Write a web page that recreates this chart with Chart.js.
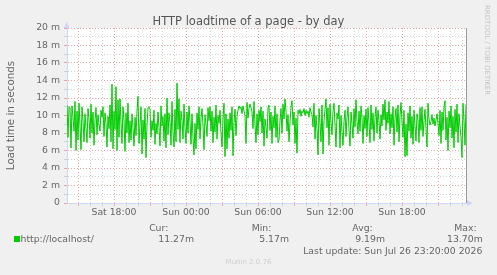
<!DOCTYPE html>
<html>
<head>
<meta charset="utf-8">
<script src="https://cdn.jsdelivr.net/npm/chart.js@4/dist/chart.umd.min.js"></script>
<style>
  html, body { margin:0; padding:0; background:#f0f0f0; }
  #wrap { position:relative; width:497px; height:275px; overflow:hidden; font-family:'DejaVu Sans', sans-serif; color:#666; }
  #c { position:absolute; left:0; top:0; }
  .t { position:absolute; white-space:nowrap; font-size:9.3px; line-height:12px; height:12px; }
  .r { text-align:right; }
</style>
</head>
<body>
<div id="wrap">
  <canvas id="c" width="497" height="275"></canvas>
  <div class="t" style="left:0;width:497px;text-align:center;top:14px;font-size:11.5px;line-height:14px;height:14px;color:#555;">HTTP loadtime of a page - by day</div>
  <div class="t" style="left:482px;top:5px;writing-mode:vertical-rl;font-size:7px;line-height:9px;height:auto;width:9px;color:#c4c4c4;">RRDTOOL / TOBI OETIKER</div>
  <div style="position:absolute;left:14px;top:236px;width:6px;height:6px;background:#00cc00;"></div>
  <div class="t" style="left:20.5px;top:233px;">http://localhost/</div>
  <div class="t r" style="right:328.7px;top:221.5px;">Cur:</div>
  <div class="t r" style="right:225.7px;top:221.5px;">Min:</div>
  <div class="t r" style="right:124.3px;top:221.5px;">Avg:</div>
  <div class="t r" style="right:20.3px;top:221.5px;">Max:</div>
  <div class="t r" style="right:303px;top:233.3px;">11.27m</div>
  <div class="t r" style="right:208px;top:233.3px;">5.17m</div>
  <div class="t r" style="right:112px;top:233.3px;">9.19m</div>
  <div class="t r" style="right:14.3px;top:233.3px;">13.70m</div>
  <div class="t r" style="right:14.7px;top:245px;">Last update: Sun Jul 26 23:20:00 2026</div>
  <div class="t" style="left:0;width:497px;text-align:center;top:257px;font-size:7px;line-height:10px;height:10px;color:#cdcdcd;">Munin 2.0.76</div>
</div>
<script>
// ---- data (load time in milliseconds, one sample per 5 minutes) ----
const seriesName = 'http://localhost/';
const startMinute = 845;   // minutes after Sat 00:00 of first sample (Sat 14:05)
const stepMinutes = 5;
const loadTime = [
  11.2, 7.5, 11.0, 10.9, 6.3, 11.1, 9.8, 8.2, 11.6, 6.0, 10.5, 7.2, 11.4, 8.8, 6.1, 11.0, 9.3, 7.0, 10.2, 8.5,
  6.9, 10.8, 9.6, 7.4, 11.3, 8.0, 10.4, 6.6, 9.5, 10.9, 7.8, 10.1, 9.0, 8.2, 10.6, 9.8, 11.0, 7.6, 10.3, 9.1,
  6.4, 9.9, 8.5, 11.2, 7.0, 13.6, 6.2, 10.5, 8.4, 13.3, 6.0, 11.8, 7.5, 11.9, 9.2, 6.8, 11.0, 9.5, 5.9, 10.3,
  8.0, 11.4, 6.9, 9.4, 7.2, 10.2, 8.6, 6.5, 9.8, 7.7, 10.5, 12.2, 6.8, 9.0, 11.0, 5.6, 9.5, 7.3, 10.8, 5.17,
  8.9, 10.9, 11.0, 10.7, 7.5, 9.4, 8.3, 10.6, 6.7, 9.1, 7.9, 10.4, 8.6, 6.5, 11.1, 8.8, 9.9, 7.1, 10.2, 6.3,
  12.0, 7.8, 10.3, 9.2, 6.6, 11.6, 8.1, 6.4, 10.7, 7.0, 13.7, 8.4, 11.9, 6.9, 10.5, 9.4, 7.3, 11.3, 8.6, 6.8,
  10.4, 8.0, 11.1, 9.3, 6.7, 10.2, 7.5, 5.5, 9.1, 6.2, 10.3, 8.4, 11.0, 7.3, 9.7, 10.8, 8.8, 6.1, 10.1, 9.0,
  7.6, 10.9, 9.4, 11.0, 8.2, 10.5, 6.9, 9.8, 8.1, 11.2, 7.3, 10.0, 9.1, 10.6, 8.0, 6.4, 9.7, 11.4, 5.3, 10.2,
  6.2, 9.6, 7.4, 10.3, 8.3, 11.0, 5.4, 9.2, 10.7, 7.7, 9.9, 10.6, 11.1, 10.8, 11.0, 10.2, 11.1, 10.5, 10.0, 6.8,
  11.5, 9.7, 10.8, 11.3, 10.9, 10.4, 8.5, 11.6, 9.0, 6.9, 10.2, 7.8, 10.6, 9.3, 11.0, 8.0, 10.5, 6.5, 9.6, 8.7,
  7.4, 10.9, 11.2, 8.3, 10.4, 6.8, 9.9, 8.6, 11.1, 7.5, 10.2, 6.9, 7.2, 9.4, 10.8, 8.0, 11.3, 9.6, 11.9, 10.5,
  8.2, 10.1, 7.0, 9.3, 11.0, 11.7, 8.9, 10.4, 6.8, 9.7, 5.7, 10.6, 10.2, 10.7, 9.9, 10.5, 10.3, 10.8, 10.0, 10.6,
  10.2, 10.5, 9.8, 10.9, 10.4, 10.1, 8.7, 11.4, 7.3, 10.0, 8.5, 5.5, 10.8, 9.1, 7.0, 11.2, 5.6, 9.4, 10.7, 11.9,
  8.6, 10.9, 6.6, 11.3, 9.2, 7.8, 10.5, 11.4, 8.9, 6.4, 10.3, 9.6, 11.2, 6.3, 10.0, 8.1, 6.6, 9.3, 10.6, 7.6,
  9.8, 11.0, 8.4, 6.5, 10.4, 9.0, 7.4, 10.8, 8.7, 11.8, 9.3, 7.9, 10.5, 8.2, 11.1, 9.7, 6.8, 10.0, 8.5, 10.7,
  7.6, 10.9, 9.2, 6.9, 11.2, 8.4, 10.3, 7.1, 9.8, 11.0, 8.0, 10.6, 9.4, 7.3, 10.1, 8.8, 11.3, 9.5, 11.8, 8.3,
  10.4, 9.1, 11.6, 7.9, 10.2, 8.6, 11.0, 6.6, 9.7, 10.8, 8.1, 11.2, 7.0, 10.0, 11.5, 9.3, 7.5, 10.6, 5.3, 9.0,
  5.4, 10.3, 8.2, 11.1, 7.4, 9.9, 6.7, 10.6, 8.8, 7.1, 10.2, 9.5, 6.9, 10.9, 8.3, 11.0, 7.6, 9.4, 10.7, 8.5,
  6.4, 11.4, 9.6, 8.9, 9.3, 10.1, 9.0, 9.7, 8.8, 9.5, 10.2, 9.1, 7.7, 10.6, 6.8, 10.4, 8.3, 11.0, 11.7, 7.2,
  9.8, 6.0, 10.5, 8.6, 11.1, 7.4, 9.9, 6.3, 10.7, 8.1, 11.3, 6.9, 10.2, 8.8, 7.5, 5.2, 11.4, 9.4, 6.6, 11.27
];
// x axis: minutes after Sat 00:00
const xMin = 845, xMax = 2845;
const labelTimes = [1080, 1440, 1800, 2160, 2520];
const tickLabels = ['Sat 18:00', 'Sun 00:00', 'Sun 06:00', 'Sun 12:00', 'Sun 18:00'];
const gridStartMinute = 900, gridEndMinute = 2820, gridStepMinutes = 60, majorGridMinutes = 180;
// y axis
const yMin = 0, yMax = 20, yStep = 1;

// ---- styles ----
const MAJOR = '#e8a6a6';
const MINOR = '#d0d0d0';
const AXIS = '#CFD6F8';
const FONT = { family: 'DejaVu Sans', size: 9.3 };

const points = loadTime.map((v, i) => ({ x: startMinute + i * stepMinutes, y: v }));
const hourTicks = [];
for (let t = gridStartMinute; t <= gridEndMinute; t += gridStepMinutes) hourTicks.push(t);

const deco = {
  id: 'deco',
  beforeDraw(chart) {
    const { ctx, chartArea: a } = chart;
    ctx.save();
    ctx.fillStyle = '#ffffff';
    ctx.fillRect(a.left, a.top, a.right - a.left, a.bottom - a.top);
    ctx.restore();
  },
  afterDraw(chart) {
    const { ctx, chartArea: a } = chart;
    ctx.save();
    ctx.strokeStyle = '#9a9a9a';
    ctx.lineWidth = 1;
    ctx.beginPath();
    ctx.moveTo(a.right - 0.5, a.top);
    ctx.lineTo(a.right - 0.5, a.bottom);
    ctx.stroke();
    ctx.fillStyle = AXIS;
    ctx.strokeStyle = AXIS;
    ctx.beginPath();
    ctx.moveTo(a.left - 0.5, a.top);
    ctx.lineTo(a.left - 0.5, a.top - 3);
    ctx.stroke();
    ctx.beginPath();
    ctx.moveTo(a.left - 3, a.top);
    ctx.lineTo(a.left + 2.5, a.top);
    ctx.lineTo(a.left - 0.25, a.top - 6.5);
    ctx.closePath();
    ctx.fill();
    ctx.beginPath();
    ctx.moveTo(a.right, a.bottom - 3);
    ctx.lineTo(a.right, a.bottom + 3);
    ctx.lineTo(a.right + 6, a.bottom);
    ctx.closePath();
    ctx.fill();
    ctx.restore();
  }
};

new Chart(document.getElementById('c'), {
  type: 'line',
  data: {
    datasets: [{
      label: seriesName,
      data: points,
      borderColor: '#00cc00',
      borderWidth: 1,
      pointRadius: 0,
      tension: 0,
      fill: false
    }]
  },
  options: {
    responsive: false,
    animation: false,
    events: [],
    layout: { padding: { left: 0, top: 28, right: 30, bottom: 0 } },
    plugins: { legend: { display: false }, tooltip: { enabled: false }, title: { display: false } },
    scales: {
      x: {
        type: 'linear',
        min: xMin,
        max: xMax,
        afterBuildTicks: s => { s.ticks = hourTicks.map(v => ({ value: v })); },
        afterFit: s => { s.height = 72; },
        ticks: {
          autoSkip: false,
          maxRotation: 0,
          minRotation: 0,
          padding: 1,
          color: '#666',
          font: FONT,
          callback: v => { const k = labelTimes.indexOf(v); return k >= 0 ? tickLabels[k] : ''; }
        },
        grid: {
          color: c => (c.tick && c.tick.value % majorGridMinutes === 0) ? MAJOR : MINOR,
          tickColor: c => (c.tick && c.tick.value % majorGridMinutes === 0) ? MAJOR : MINOR,
          tickLength: 3,
          lineWidth: 1
        },
        border: { color: AXIS, width: 1, dash: [1, 2] }
      },
      y: {
        min: yMin,
        max: yMax,
        afterFit: s => { s.width = 67; },
        ticks: {
          stepSize: yStep,
          autoSkip: false,
          padding: 4,
          color: '#666',
          font: FONT,
          callback: v => (v % 2 !== 0) ? '' : (v === 0 ? '0' : v + ' m')
        },
        grid: {
          color: c => (c.tick && c.tick.value % 2 === 0) ? MAJOR : MINOR,
          tickColor: c => (c.tick && c.tick.value % 2 === 0) ? MAJOR : MINOR,
          tickLength: 3,
          lineWidth: 1
        },
        border: { color: AXIS, width: 1, dash: [1, 2] },
        title: {
          display: true,
          text: 'Load time in seconds',
          color: '#666',
          font: { family: 'DejaVu Sans', size: 10.3 },
          padding: { top: 5, bottom: 0 }
        }
      }
    }
  },
  plugins: [deco]
});
</script>
</body>
</html>
